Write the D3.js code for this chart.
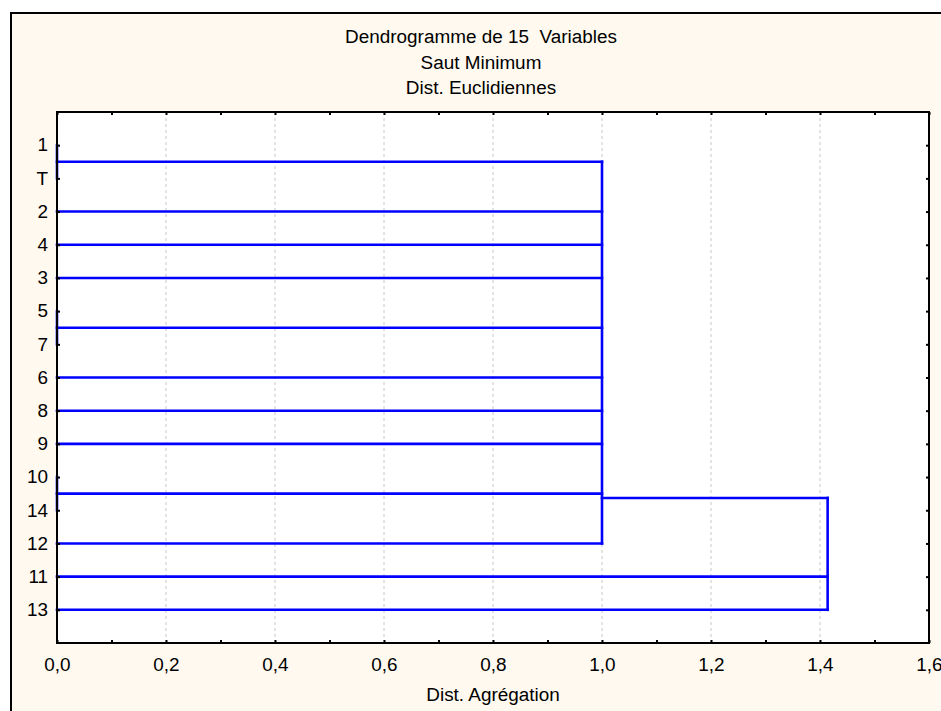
<!DOCTYPE html>
<html>
<head>
<meta charset="utf-8">
<script src="https://cdn.jsdelivr.net/npm/d3@7"></script>
<style>
  body { margin: 0; background: #fff; }
  text { font-family: "Liberation Sans", Arial, sans-serif; font-size: 18px; fill: #000; white-space: pre; }
</style>
</head>
<body>
<div class="chart"></div>
<script>
// leaves from top to bottom
const leafLabels = ['1','T','2','4','3','5','7','6','8','9','10','14','12','11','13'];
// merges, m0..m4 in order
const mergeChildren = [
	['1','T'],
	['5','7'],
	['10','14'],
	['m0','2','4','3','m1','6','8','9','m2','12'],
	['m3','11','13']
];
const mergeHeights = [0, 0, 0, 1.0, 1.414];
// row where the join line leaves the merge, null = middle of children
const mergeRows = [null, null, null, 10.63, null];
const titleLines = ['Dendrogramme de 15  Variables', 'Saut Minimum', 'Dist. Euclidiennes'];
const xTicks = [0,0.1,0.2,0.3,0.4,0.5,0.6,0.7,0.8,0.9,1.0,1.1,1.2,1.3,1.4,1.5,1.6];
const xLabels = [0,0.2,0.4,0.6,0.8,1.0,1.2,1.4,1.6];
const xTitle = 'Dist. Agrégation';

const width = 941, height = 711;
const plot = {left: 57, top: 112, right: 929, bottom: 643};

const svg = d3.select('.chart').append('svg')
	.attr('width', width)
	.attr('height', height);

// outer frame
svg.append('rect')
	.attr('x', 11).attr('y', 13)
	.attr('width', width).attr('height', height)
	.attr('fill', '#fff9ef')
	.attr('stroke', '#000')
	.attr('stroke-width', 2);

svg.append('rect')
	.attr('x', plot.left).attr('y', plot.top)
	.attr('width', plot.right - plot.left).attr('height', plot.bottom - plot.top)
	.attr('fill', '#fff');

const x = d3.scaleLinear().domain([0, 1.6]).range([plot.left, plot.right]);
const y = d3.scaleLinear().domain([-1, leafLabels.length]).range([plot.top, plot.bottom]);
const fmt = v => d3.format('.1f')(v).replace('.', ',');

// grid
svg.selectAll('line.grid')
	.data(xLabels.filter(d => d > 0 && d < 1.6))
	.enter()
	.append('line')
	.attr('class', 'grid')
	.attr('x1', d => x(d)).attr('x2', d => x(d))
	.attr('y1', plot.top).attr('y2', plot.bottom)
	.attr('stroke', '#c8c8c8')
	.attr('stroke-dasharray', '3,3');

// compute positions of nodes
const pos = {};
leafLabels.forEach((d, i) => { pos[d] = {row: i, h: 0}; });
mergeChildren.forEach((ch, i) => {
	const rows = ch.map(c => pos[c].row);
	const row = mergeRows[i] != null ? mergeRows[i] : d3.mean([d3.min(rows), d3.max(rows)]);
	pos['m' + i] = {row: row, h: mergeHeights[i]};
});

const segs = [];
mergeChildren.forEach((ch, i) => {
	const h = mergeHeights[i];
	const rows = ch.map(c => pos[c].row);
	segs.push({x1: h, x2: h, r1: d3.min(rows), r2: d3.max(rows)});
	ch.forEach(c => segs.push({x1: pos[c].h, x2: h, r1: pos[c].row, r2: pos[c].row}));
});

svg.selectAll('line.link')
	.data(segs.filter(s => !(s.x1 === s.x2 && s.r1 === s.r2)))
	.enter()
	.append('line')
	.attr('class', 'link')
	.attr('x1', d => x(d.x1)).attr('x2', d => x(d.x2))
	.attr('y1', d => y(d.r1)).attr('y2', d => y(d.r2))
	.attr('stroke', '#0000ff')
	.attr('stroke-width', 2.6)
	.attr('stroke-linecap', 'square');

// axes
const gL = svg.append('g').attr('transform', `translate(${plot.left},0)`)
	.call(d3.axisLeft(y).tickValues(d3.range(leafLabels.length)).tickFormat(i => leafLabels[i]).tickSize(-3).tickPadding(9));
const gR = svg.append('g').attr('transform', `translate(${plot.right},0)`)
	.call(d3.axisRight(y).tickValues(d3.range(leafLabels.length)).tickFormat('').tickSize(-3));
const gB = svg.append('g').attr('transform', `translate(0,${plot.bottom})`)
	.call(d3.axisBottom(x).tickValues(xTicks).tickFormat('').tickSize(-3));
const gB2 = svg.append('g').attr('transform', `translate(0,${plot.bottom})`)
	.call(d3.axisBottom(x).tickValues(xLabels).tickFormat(fmt).tickSize(0).tickPadding(15));
const gT = svg.append('g').attr('transform', `translate(0,${plot.top})`)
	.call(d3.axisTop(x).tickValues(xTicks).tickFormat('').tickSize(-3));

[gL, gR, gB, gB2, gT].forEach(g => {
	g.select('.domain').remove();
	g.selectAll('line').attr('stroke', '#000').attr('stroke-width', 2);
	g.selectAll('text').attr('font-family', null).attr('font-size', null).attr('fill', '#000');
});

svg.append('rect')
	.attr('x', plot.left).attr('y', plot.top)
	.attr('width', plot.right - plot.left).attr('height', plot.bottom - plot.top)
	.attr('fill', 'none')
	.attr('stroke', '#000')
	.attr('stroke-width', 2);

// titles
svg.selectAll('text.title')
	.data(titleLines)
	.enter()
	.append('text')
	.attr('class', 'title')
	.attr('x', 481)
	.attr('y', (d, i) => 43 + i * 25.5)
	.attr('text-anchor', 'middle')
	.text(d => d);

svg.append('text')
	.attr('x', 493)
	.attr('y', 701)
	.attr('text-anchor', 'middle')
	.text(xTitle);

// the original font is drawn a bit wider, stretch every text
svg.selectAll('text').each(function() {
	const len = this.getComputedTextLength();
	if (len > 0) d3.select(this).attr('textLength', len * 1.05).attr('lengthAdjust', 'spacingAndGlyphs');
});
</script>
</body>
</html>
